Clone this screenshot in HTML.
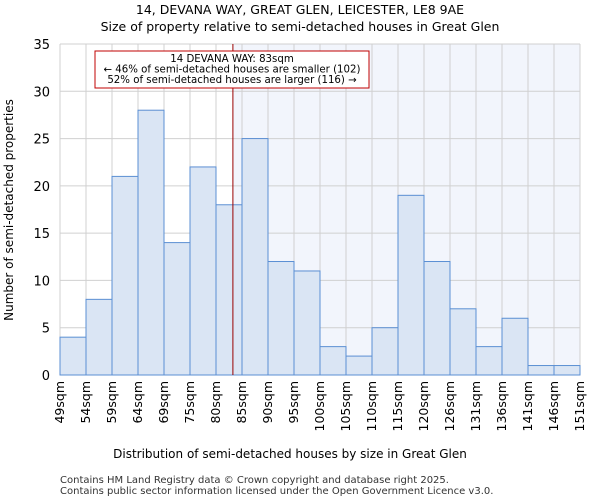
<!DOCTYPE html>
<html><head><meta charset="utf-8"><style>
body{margin:0;background:#fff;font-family:"DejaVu Sans","Liberation Sans",sans-serif}
</style></head><body>
<svg id="c" width="600" height="500" xmlns="http://www.w3.org/2000/svg" font-family="DejaVu Sans, Liberation Sans, sans-serif">
<text x="300" y="14" text-anchor="middle" font-size="12.5">14, DEVANA WAY, GREAT GLEN, LEICESTER, LE8 9AE</text>
<text x="300" y="31" text-anchor="middle" font-size="12.5">Size of property relative to semi-detached houses in Great Glen</text>
<g id="plot"></g>
<text x="290" y="458" text-anchor="middle" font-size="12">Distribution of semi-detached houses by size in Great Glen</text>
<text transform="translate(13,210) rotate(-90)" text-anchor="middle" font-size="12">Number of semi-detached properties</text>
<text x="60" y="483" font-size="10" fill="#333">Contains HM Land Registry data © Crown copyright and database right 2025.</text>
<text x="60" y="494" font-size="10" fill="#333">Contains public sector information licensed under the Open Government Licence v3.0.</text>
</svg>
<script>
const categories=["49sqm","54sqm","59sqm","64sqm","69sqm","75sqm","80sqm","85sqm","90sqm","95sqm","100sqm","105sqm","110sqm","115sqm","120sqm","126sqm","131sqm","136sqm","141sqm","146sqm","151sqm"];
const counts=[4,8,21,28,14,22,18,25,12,11,3,2,5,19,12,7,3,6,1,1];
const yTicks=[0,5,10,15,20,25,30,35];
const markerBin=6.65;
const NS="http://www.w3.org/2000/svg";
const L=60,R=580,T=44,B=375,yMax=35;
const n=counts.length,bw=(R-L)/n;
const xs=i=>L+i*bw, ys=v=>B-v/yMax*(B-T);
const g=document.getElementById('plot');
function mk(t,a,p){const e=document.createElementNS(NS,t);for(const k in a)e.setAttribute(k,a[k]);(p||g).appendChild(e);return e;}
const mx=xs(markerBin);
let e=mk('rect',{x:mx,y:T,width:R-mx,height:B-T,fill:'#f2f5fc'});


for(let i=0;i<=n;i++){e=mk('line',{x1:xs(i),x2:xs(i),y1:T,y2:B,stroke:'#d0d0d0','stroke-width':1});

}
yTicks.forEach(v=>{e=mk('line',{x1:L,x2:R,y1:ys(v),y2:ys(v),stroke:'#d0d0d0','stroke-width':1});


e=mk('text',{x:L-10,y:ys(v)+5,'text-anchor':'end','font-size':13});e.textContent=v;

});
counts.forEach((v,i)=>{e=mk('rect',{x:xs(i),y:ys(v),width:bw,height:B-ys(v),fill:'#dae5f4',stroke:'#5b8fd3','stroke-width':1});

});
categories.forEach((c,i)=>{const x=xs(i)+4;e=mk('text',{transform:`translate(${x},${B+6}) rotate(-90)`,'text-anchor':'end','font-size':12.5});e.textContent=c;

});
e=mk('line',{x1:mx,x2:mx,y1:T,y2:B,stroke:'#9a0000','stroke-width':1});


e=mk('rect',{x:95,y:51,width:274,height:37,fill:'#fff',stroke:'#c00000','stroke-width':1});


["14 DEVANA WAY: 83sqm","← 46% of semi-detached houses are smaller (102)","52% of semi-detached houses are larger (116) →"].forEach((t,i)=>{e=mk('text',{x:232,y:62+i*10.5,'text-anchor':'middle','font-size':10.2});e.textContent=t;

});
</script>
</body></html>
